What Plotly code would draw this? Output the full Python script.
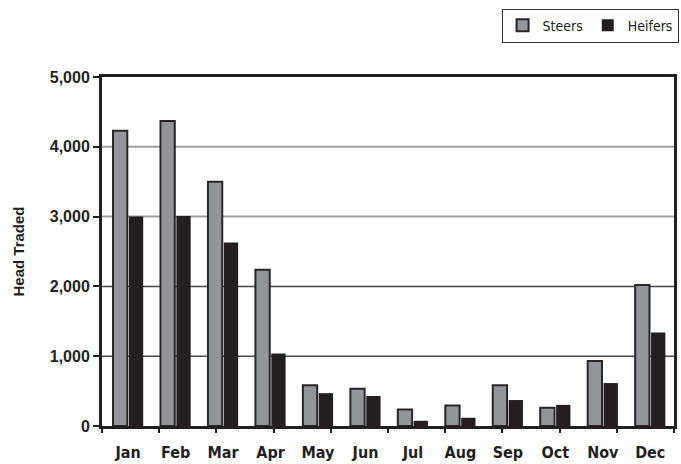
import plotly.graph_objects as go

months = ["Jan", "Feb", "Mar", "Apr", "May", "Jun", "Jul", "Aug", "Sep", "Oct", "Nov", "Dec"]
steers = [4230, 4370, 3500, 2240, 585, 535, 235, 295, 585, 260, 930, 2020]
heifers = [3000, 3010, 2630, 1040, 470, 430, 75, 118, 372, 303, 615, 1340]
y_ticks = [0, 1000, 2000, 3000, 4000, 5000]
grid_dark = [1000, 2000]
grid_light = [3000, 4000]

FONT_B = "Liberation Sans"
NARROW = "DejaVu Sans Condensed, Liberation Sans"

fig = go.Figure()
fig.add_trace(go.Bar(
    x=months, y=steers, name="Steers",
    marker=dict(color="#939598", line=dict(color="#2a2627", width=2)),
))
fig.add_trace(go.Bar(
    x=months, y=heifers, name="Heifers",
    marker=dict(color="#231f20", line=dict(width=0)),
))
# overlay axis only for the bottom tick marks
fig.add_trace(go.Scatter(x=[0, 10], y=[0, 0], xaxis="x2", mode="lines",
                         line=dict(width=0), showlegend=False, hoverinfo="skip"))

shapes = []
for v in grid_light:
    shapes.append(dict(type="line", xref="paper", x0=0, x1=1, yref="y", y0=v, y1=v,
                       line=dict(color="#a0a0a0", width=2), layer="below"))
for v in grid_dark:
    shapes.append(dict(type="line", xref="paper", x0=0, x1=1, yref="y", y0=v, y1=v,
                       line=dict(color="#4a4a4a", width=1.5), layer="below"))

fig.update_layout(
    width=681, height=464,
    margin=dict(l=102, r=2, t=77, b=35),
    paper_bgcolor="white", plot_bgcolor="white",
    barmode="group", bargap=0.33, bargroupgap=0.1,
    showlegend=True,
    legend=dict(
        orientation="h", x=1.008, xanchor="right", y=1.196, yanchor="top",
        bordercolor="#333333", borderwidth=1,
        font=dict(family=NARROW, size=14, color="#231f20"),
        itemwidth=30, traceorder="normal",
    ),
    xaxis=dict(
        type="category", range=[-0.55, 11.5],
        showgrid=False, showline=True, linecolor="#231f20", linewidth=3,
        mirror=True, ticks="", zeroline=False,
        tickfont=dict(family=NARROW, size=16, color="#231f20", weight="bold"),
        ticklabelstandoff=10,
    ),
    xaxis2=dict(
        overlaying="x", range=[0, 10], tickvals=list(range(11)), showticklabels=False,
        ticks="outside", ticklen=6, tickwidth=2, tickcolor="#231f20",
        showgrid=False, showline=False, zeroline=False, side="bottom",
        anchor="y",
    ),
    yaxis=dict(
        range=[0, 5000], tickvals=y_ticks, tickformat=",d",
        showgrid=False, showline=True, linecolor="#231f20", linewidth=3,
        mirror=True, ticks="outside", ticklen=6, tickwidth=2, tickcolor="#231f20",
        zeroline=False,
        tickfont=dict(family=FONT_B, size=16, color="#231f20", weight="bold"),
        title=dict(text="Head Traded", standoff=22,
                   font=dict(family=FONT_B, size=15, color="#231f20", weight="bold")),
    ),
    shapes=shapes,
)

fig.write_html("out.html")
